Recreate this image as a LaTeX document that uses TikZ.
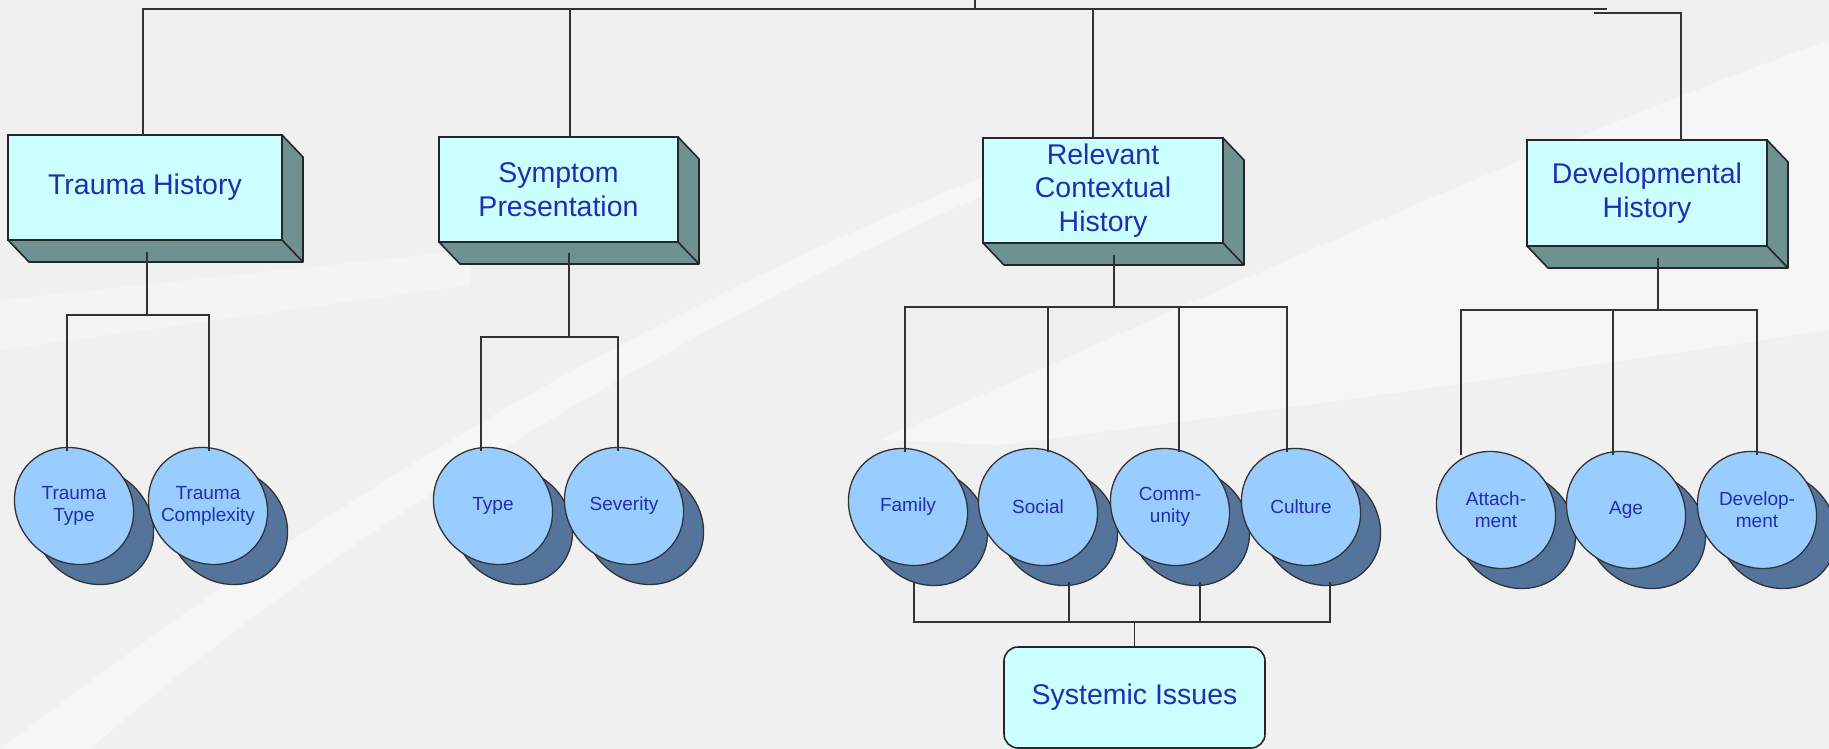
\documentclass[tikz,border=0pt]{standalone}
\usepackage{fontspec}
\setmainfont{Liberation Sans}
\usetikzlibrary{positioning,shapes.geometric}
\pgfdeclarelayer{bglayer}
\pgfdeclarelayer{shadelayer}
\pgfdeclarelayer{facelayer}
\pgfsetlayers{bglayer,shadelayer,facelayer,main}
\definecolor{boxface}{RGB}{204,255,255}
\definecolor{boxside}{RGB}{110,145,145}
\definecolor{leaflight}{RGB}{153,204,255}
\definecolor{leafdark}{RGB}{84,116,156}
\definecolor{labelblue}{RGB}{32,46,178}
\definecolor{bggray}{RGB}{240,240,240}
\newcommand{\extrude}[1]{%
  \filldraw[sideface] (#1.north east) -- ([shift={(21,22)}]#1.north east)
    -- ([shift={(21,22)}]#1.south east) -- ([shift={(21,22)}]#1.south west)
    -- (#1.south west) -- (#1.south east) -- cycle;
  \draw[sideface] (#1.south east) -- ([shift={(21,22)}]#1.south east);
}
\tikzset{
  topbox/.style={rectangle, draw=black!85, line width=1.6pt, fill=boxface,
    text=labelblue, font=\fontsize{28.5}{33.5}\selectfont, align=center,
    inner sep=0pt, outer sep=0pt},
  sideface/.style={draw=black!85, line width=1.6pt, fill=boxside, line join=round},
  leaf/.style={circle, minimum size=110pt, inner sep=0pt, outer sep=0pt,
    text=labelblue, font=\fontsize{19}{22}\selectfont, align=center},
  leafshade/.style={draw=black!80, line width=1.3pt, fill=leafdark},
  leafface/.style={draw=black!80, line width=1.3pt, fill=leaflight},
  wire/.style={draw=black!80, line width=1.8pt},
  issuebox/.style={rectangle, rounded corners=14pt, draw=black!85, line width=1.6pt,
    fill=boxface, text=labelblue, font=\fontsize{28.5}{33.5}\selectfont,
    minimum width=261pt, minimum height=101pt, outer sep=0pt}
}
\begin{document}
\begin{tikzpicture}[x=1pt, y=-1pt]
  \useasboundingbox (0,0) rectangle (1829,749);

  % Background
  \begin{pgfonlayer}{bglayer}
    \fill[bggray] (0,0) rectangle (1829,749);
    \fill[white, opacity=0.45] (0,749) .. controls (300,520) and (600,330) .. (1000,170)
      -- (1040,170) .. controls (650,340) and (330,540) .. (90,749) -- cycle;
    \fill[white, opacity=0.45] (880,440) .. controls (1200,300) and (1500,160) .. (1829,40)
      -- (1829,330) .. controls (1500,380) and (1200,420) .. (1000,445) -- cycle;
    \fill[white, opacity=0.3] (0,300) -- (470,250) -- (470,285) -- (0,350) -- cycle;
  \end{pgfonlayer}

  % Nodes
  \node[topbox, minimum width=274pt, minimum height=105pt] (trauma) at (145,187.5) {Trauma History};
  \node[topbox, minimum width=239pt, minimum height=105pt] (symptom) at (558.5,189.5) {Symptom\\Presentation};
  \node[topbox, minimum width=240pt, minimum height=105pt] (context) at (1103,190.5) {Relevant\\Contextual\\History};
  \node[topbox, minimum width=240pt, minimum height=106pt] (devhist) at (1647,193) {Developmental\\History};

  \node[leaf] (ttype) at (74,506) {Trauma\\Type};
  \node[leaf, on grid, right=134pt of ttype] (tcomplex) {Trauma\\Complexity};
  \node[leaf] (stype) at (493,506) {Type};
  \node[leaf, on grid, right=131pt of stype] (severity) {Severity};
  \node[leaf] (family) at (908,507) {Family};
  \node[leaf, on grid, right=130pt of family] (social) {Social};
  \node[leaf, on grid, right=132pt of social] (community) {Comm-\\unity};
  \node[leaf, on grid, right=131pt of community] (culture) {Culture};
  \node[leaf] (attach) at (1496,510) {Attach-\\ment};
  \node[leaf, on grid, right=130pt of attach] (age) {Age};
  \node[leaf, on grid, right=131pt of age] (develop) {Develop-\\ment};

  \node[issuebox] (systemic) at (1134.5,697.5) {Systemic Issues};

  % Depth of the boxes
  \extrude{trauma}
  \extrude{symptom}
  \extrude{context}
  \extrude{devhist}

  % Ovals
  \begin{pgfonlayer}{shadelayer}
    \foreach \leafname in {ttype,tcomplex,stype,severity,family,social,community,culture,attach,age,develop} {
      \coordinate (sc) at ([shift={(20,20)}]\leafname.center);
      \draw[leafshade, rotate around={-40:(sc)}] (sc) ellipse [x radius=62pt, y radius=56pt];
    }
  \end{pgfonlayer}
  \begin{pgfonlayer}{facelayer}
    \foreach \leafname in {ttype,tcomplex,stype,severity,family,social,community,culture,attach,age,develop}
      \draw[leafface, rotate around={-40:(\leafname.center)}] (\leafname.center) ellipse [x radius=62pt, y radius=56pt];
  \end{pgfonlayer}

  % Edges
  \coordinate (root) at (975,0);
  \coordinate (topbus) at (975,9);
  \coordinate (busend) at (1607,9);
  \coordinate (stepbus) at (1594,13);
  \draw[wire] (root) -- (topbus);
  \draw[wire] ([xshift=-2pt]trauma.north) |- (busend);
  \draw[wire] ([xshift=11.5pt]symptom.north) |- (topbus);
  \draw[wire] ([xshift=-10pt]context.north) |- (topbus);
  \draw[wire] (stepbus) -| ([xshift=34pt]devhist.north);

  \coordinate (trjoin) at (147,315);
  \draw[wire] ([shift={(2,12)}]trauma.south) -- (trjoin);
  \draw[wire] ([xshift=-7pt]ttype.north) |- (trjoin) -| ([xshift=1pt]tcomplex.north);

  \coordinate (syjoin) at (569,337);
  \draw[wire] ([shift={(10.5,11)}]symptom.south) -- (syjoin);
  \draw[wire] ([xshift=-12pt]stype.north) |- (syjoin) -| ([xshift=-6pt]severity.north);

  \coordinate (cxjoin) at (1114,307);
  \draw[wire] ([shift={(11,12)}]context.south) -- (cxjoin);
  \draw[wire] ([xshift=-3pt]family.north) |- (cxjoin) -| ([xshift=-14pt]culture.north);
  \draw[wire] ([xshift=10pt]social.north) |- (cxjoin);
  \draw[wire] ([xshift=9pt]community.north) |- (cxjoin);

  \coordinate (dvjoin) at (1658,310);
  \draw[wire] ([shift={(11,12)}]devhist.south) -- (dvjoin);
  \draw[wire] ([xshift=-35pt]attach.north) |- (dvjoin) -| (develop.north);
  \draw[wire] ([xshift=-13pt]age.north) |- (dvjoin);

  \coordinate (sysjoin) at (1134.5,622);
  \draw[wire] ([shift={(6,20)}]family.south) |- (sysjoin) -| ([shift={(29,20)}]culture.south);
  \draw[wire] ([shift={(31,20)}]social.south) |- (sysjoin);
  \draw[wire] ([shift={(30,20)}]community.south) |- (sysjoin);
  \draw[wire] (sysjoin) -- (systemic.north);

\end{tikzpicture}
\end{document}
